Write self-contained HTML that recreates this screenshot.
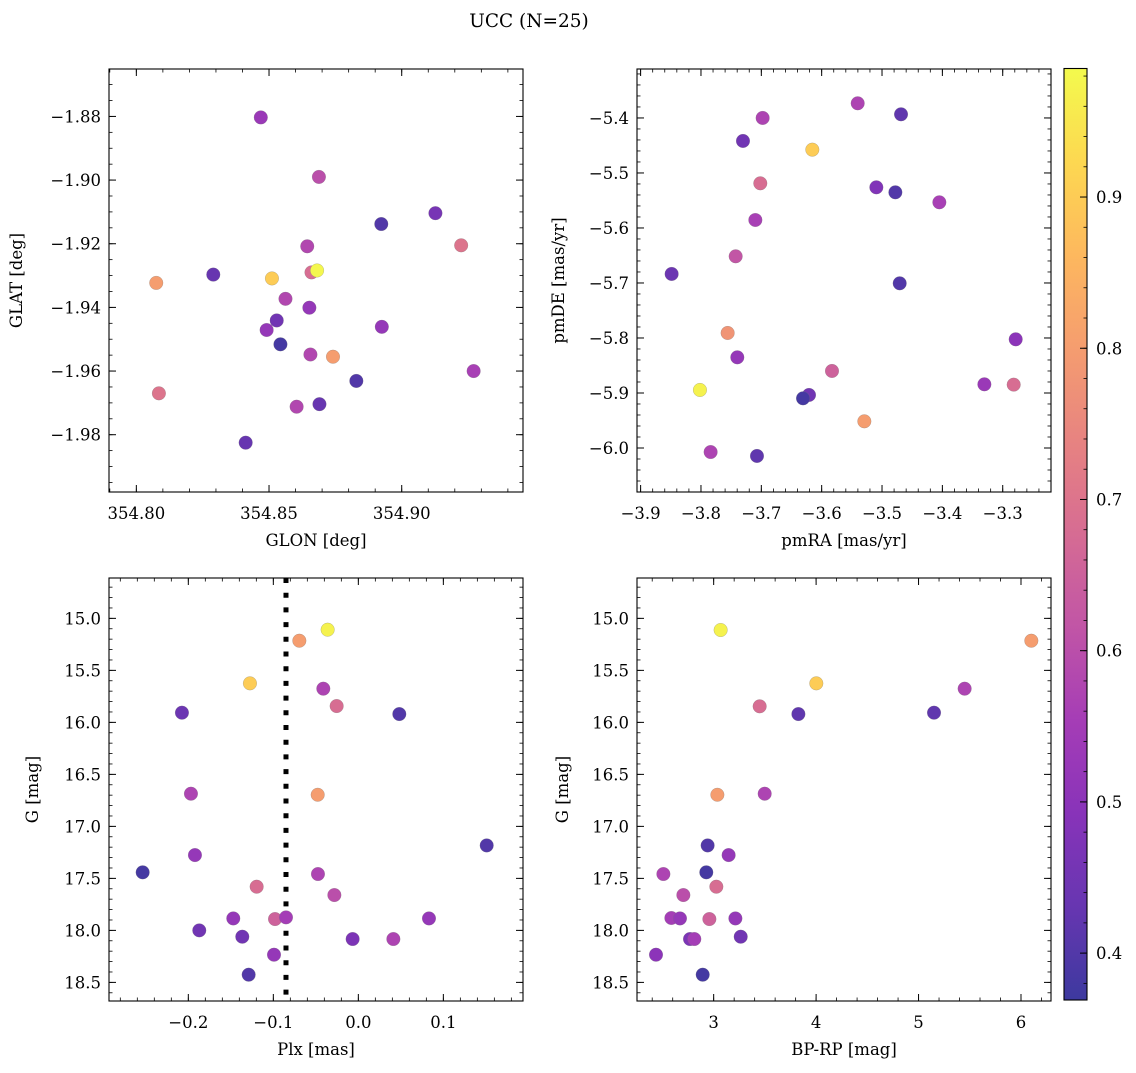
<!DOCTYPE html>
<html><head><meta charset="utf-8"><style>
html,body{margin:0;padding:0;background:#fff;}
svg text{font-family:"DejaVu Serif","Liberation Serif",serif;fill:#000;}
</style></head><body>
<svg id="fig" width="1136" height="1068" viewBox="0 0 1136 1068" xmlns="http://www.w3.org/2000/svg">
<rect width="1136" height="1068" fill="#fff"/>
<text x="529" y="27" font-size="18.5" text-anchor="middle">UCC (N=25)</text>
</svg>
<script>
// ---- data ----
const glon = [354.8469,354.8688,354.9127,354.8923,354.9224,354.8644,354.8290,354.8075,354.8511,354.8660,354.8681,354.8562,354.8652,354.8529,354.8491,354.8543,354.8925,354.8656,354.8741,354.9271,354.8829,354.8085,354.8690,354.8604,354.8412];
const glat = [-1.8803,-1.8990,-1.9104,-1.9138,-1.9205,-1.9208,-1.9297,-1.9323,-1.9309,-1.9290,-1.9284,-1.9373,-1.9401,-1.9441,-1.9471,-1.9516,-1.9461,-1.9548,-1.9555,-1.9600,-1.9631,-1.9670,-1.9704,-1.9712,-1.9825];
const probA = [0.53,0.60,0.46,0.40,0.70,0.58,0.43,0.80,0.90,0.68,0.98,0.58,0.52,0.45,0.52,0.38,0.52,0.58,0.80,0.56,0.40,0.70,0.43,0.58,0.43];

const pmra = [-3.5403,-3.4685,-3.6978,-3.7304,-3.6155,-3.7017,-3.5094,-3.4779,-3.4050,-3.7099,-3.7425,-3.8486,-3.4707,-3.7558,-3.2785,-3.7398,-3.5829,-3.3304,-3.2818,-3.8017,-3.6210,-3.6309,-3.5293,-3.7840,-3.7072];
const pmde = [-5.3733,-5.3933,-5.4000,-5.4418,-5.4576,-5.5188,-5.5261,-5.5352,-5.5533,-5.5855,-5.6515,-5.6836,-5.7006,-5.7909,-5.8024,-5.8352,-5.8600,-5.8842,-5.8848,-5.8945,-5.9036,-5.9097,-5.9515,-6.0073,-6.0145];
const probB = [0.57,0.42,0.57,0.45,0.90,0.68,0.48,0.40,0.56,0.56,0.62,0.44,0.40,0.78,0.50,0.52,0.65,0.53,0.68,0.97,0.45,0.38,0.80,0.57,0.42];

const plx = [-0.0361,-0.0694,-0.1275,-0.0412,-0.0255,-0.2075,0.0482,-0.1969,-0.0478,0.1510,-0.1922,-0.2537,-0.0475,-0.1196,-0.0282,-0.1471,-0.0980,-0.0851,0.0831,-0.1871,-0.1365,-0.0067,0.0412,-0.0992,-0.1290];
const gmagC = [15.109,15.215,15.625,15.676,15.843,15.907,15.920,16.686,16.696,17.183,17.276,17.442,17.458,17.580,17.660,17.885,17.891,17.875,17.885,18.000,18.061,18.083,18.083,18.234,18.426];
const probC = [0.97,0.80,0.90,0.57,0.68,0.44,0.40,0.57,0.80,0.40,0.52,0.38,0.57,0.68,0.60,0.52,0.65,0.55,0.52,0.45,0.45,0.47,0.57,0.52,0.40];
const plxMean = -0.0851;

const bprp = [3.068,6.101,4.002,5.450,3.449,3.827,5.151,3.036,3.498,2.941,3.146,2.928,2.509,3.026,2.704,2.587,2.671,2.958,3.212,3.264,2.769,2.811,2.437,2.893];
const gmagD = [15.112,15.215,15.625,15.676,15.846,15.920,15.907,16.696,16.686,17.183,17.276,17.442,17.458,17.580,17.660,17.881,17.885,17.891,17.885,18.061,18.083,18.083,18.234,18.426];
const probD = [0.97,0.80,0.90,0.57,0.68,0.42,0.42,0.80,0.57,0.40,0.52,0.38,0.57,0.68,0.60,0.55,0.52,0.65,0.52,0.45,0.47,0.55,0.50,0.38];

const ticksGlon = [354.80,354.85,354.90];
const ticksGlat = [-1.88,-1.90,-1.92,-1.94,-1.96,-1.98];
const ticksPmra = [-3.9,-3.8,-3.7,-3.6,-3.5,-3.4,-3.3];
const ticksPmde = [-5.4,-5.5,-5.6,-5.7,-5.8,-5.9,-6.0];
const ticksPlx = [-0.2,-0.1,0.0,0.1];
const ticksG = [15.0,15.5,16.0,16.5,17.0,17.5,18.0,18.5];
const ticksBprp = [3,4,5,6];
const ticksCbar = [0.4,0.5,0.6,0.7,0.8,0.9];
const cmin = 0.369, cmax = 0.985;

// ---- helpers ----
const NS = "http://www.w3.org/2000/svg";
const svg = document.getElementById('fig');
function mk(tag, attrs, parent){
  const e = document.createElementNS(NS, tag);
  for (const k in attrs) e.setAttribute(k, attrs[k]);
  (parent||svg).appendChild(e);
  return e;
}
const plasma = ["#0d0887","#41049d","#6a00a8","#8f0da4","#b12a90","#cc4778","#e16462","#f2844b","#fca636","#fcce25","#f0f921"];
function hex2rgb(h){return [parseInt(h.substr(1,2),16),parseInt(h.substr(3,2),16),parseInt(h.substr(5,2),16)];}
const ALPHA = 0.8;
function cmap(v){
  let t = (v-cmin)/(cmax-cmin); t=Math.max(0,Math.min(1,t));
  const s = t*10, i = Math.min(9,Math.floor(s)), f = s-i;
  const a = hex2rgb(plasma[i]), b = hex2rgb(plasma[i+1]);
  return "rgb("+a.map((x,k)=>Math.round((x+(b[k]-x)*f)*ALPHA+255*(1-ALPHA))).join(",")+")";
}
function fmt(v,d){ const s = Math.abs(v).toFixed(d); return (v< -1e-9?"\u2212":"")+s; }

function panel(o){
  const g = mk('g',{});
  
  
  const X = v => o.x0 + (v-o.xmin)/(o.xmax-o.xmin)*(o.x1-o.x0);
  const Y = o.invert ? (v => o.y0 + (v-o.ymin)/(o.ymax-o.ymin)*(o.y1-o.y0))
                     : (v => o.y1 - (v-o.ymin)/(o.ymax-o.ymin)*(o.y1-o.y0));
  const mt = mk('g',{stroke:'#000','stroke-width':0.8}, g);
  
  
  for (let v=Math.ceil(o.xmin/o.xminor)*o.xminor; v<=o.xmax; v+=o.xminor){
    const px=X(v);
    mk('line',{x1:px,x2:px,y1:o.y1,y2:o.y1-3.5},mt); mk('line',{x1:px,x2:px,y1:o.y0,y2:o.y0+3.5},mt);
  }
  for (let v=Math.ceil(o.ymin/o.yminor)*o.yminor; v<=o.ymax; v+=o.yminor){
    const py=Y(v);
    mk('line',{x1:o.x0,x2:o.x0+3.5,y1:py,y2:py},mt); mk('line',{x1:o.x1,x2:o.x1-3.5,y1:py,y2:py},mt);
  }
  o.xt.forEach(v=>{
    const px=X(v);
    mk('line',{x1:px,x2:px,y1:o.y1,y2:o.y1-7,stroke:'#000','stroke-width':1},g);
    mk('line',{x1:px,x2:px,y1:o.y0,y2:o.y0+7,stroke:'#000','stroke-width':1},g);
    const t = mk('text',{x:px,y:o.y1+27,'font-size':16.5,'text-anchor':'middle'},g);
    
    
    t.textContent = fmt(v,o.xd);
  });
  o.yt.forEach(v=>{
    const py=Y(v);
    mk('line',{x1:o.x0,x2:o.x0+7,y1:py,y2:py,stroke:'#000','stroke-width':1},g);
    mk('line',{x1:o.x1,x2:o.x1-7,y1:py,y2:py,stroke:'#000','stroke-width':1},g);
    const t = mk('text',{x:o.x0-8,y:py+6,'font-size':16.5,'text-anchor':'end'},g);
    
    
    t.textContent = fmt(v,o.yd);
  });
  if (o.vline!==undefined){
    const l = mk('line',{x1:X(o.vline),x2:X(o.vline),y1:o.y0,y2:o.y1,stroke:'#000','stroke-width':5,'stroke-dasharray':'5 9.7'},g);
    
    
  }
  for (let i=0;i<o.xs.length;i++){
    const c = mk('circle',{cx:X(o.xs[i]),cy:Y(o.ys[i]),r:6.8,fill:cmap(o.cs[i]),stroke:'#777','stroke-opacity':0.6,'stroke-width':0.4},g);
    
    
  }
  const fr = mk('rect',{x:o.x0,y:o.y0,width:o.x1-o.x0,height:o.y1-o.y0,fill:'none',stroke:'#000','stroke-width':1.1},g);
  
  
  const xl = mk('text',{x:(o.x0+o.x1)/2,y:o.y1+54,'font-size':16.5,'text-anchor':'middle'},g);
  
  
  xl.textContent = o.xlabel;
  const yc=(o.y0+o.y1)/2;
  const yl = mk('text',{x:o.ylx,y:yc,'font-size':16.5,'text-anchor':'middle',transform:'rotate(-90 '+o.ylx+' '+yc+')'},g);
  
  
  yl.textContent = o.ylabel;
}

panel({name:'glon-glat-panel',x0:109,x1:523,y0:69,y1:492,xmin:354.7897,xmax:354.9457,ymin:-1.998,ymax:-1.8651,
  xt:ticksGlon,yt:ticksGlat,xd:2,yd:2,xminor:0.01,yminor:0.005,xs:glon,ys:glat,cs:probA,xlabel:'GLON [deg]',ylabel:'GLAT [deg]',ylx:22});
panel({name:'pm-panel',x0:637,x1:1051,y0:69,y1:492,xmin:-3.906,xmax:-3.220,ymin:-6.080,ymax:-5.311,
  xt:ticksPmra,yt:ticksPmde,xd:1,yd:1,xminor:0.02,yminor:0.02,xs:pmra,ys:pmde,cs:probB,xlabel:'pmRA [mas/yr]',ylabel:'pmDE [mas/yr]',ylx:564});
panel({name:'plx-g-panel',x0:109,x1:523,y0:578,y1:1001,xmin:-0.2933,xmax:0.1937,ymin:14.612,ymax:18.679,invert:true,
  xt:ticksPlx,yt:ticksG,xd:1,yd:1,xminor:0.02,yminor:0.1,xs:plx,ys:gmagC,cs:probC,xlabel:'Plx [mas]',ylabel:'G [mag]',ylx:38,vline:plxMean});
panel({name:'cmd-panel',x0:637,x1:1051,y0:578,y1:1001,xmin:2.2515,xmax:6.293,ymin:14.612,ymax:18.679,invert:true,
  xt:ticksBprp,yt:ticksG,xd:0,yd:1,xminor:0.2,yminor:0.1,xs:bprp,ys:gmagD,cs:probD,xlabel:'BP-RP [mag]',ylabel:'G [mag]',ylx:568});

(function(){
  const x0=1064,x1=1087,y0=68.5,y1=1000;
  const g = mk('g',{});
  
  
  const defs = mk('defs',{},g);
  const lg = mk('linearGradient',{id:'cbg',x1:0,y1:1,x2:0,y2:0},defs);
  for (let k=0;k<=20;k++){
    const v = cmin+(cmax-cmin)*k/20;
    mk('stop',{offset:(k/20),'stop-color':cmap(v)},lg);
  }
  mk('rect',{x:x0,y:y0,width:x1-x0,height:y1-y0,fill:'url(#cbg)'},g);
  const Y = v => y1-(v-cmin)/(cmax-cmin)*(y1-y0);
  for (let v=0.38; v<cmax; v+=0.02){
    const py=Y(v); mk('line',{x1:x1,x2:x1-3.5,y1:py,y2:py,stroke:'#000','stroke-width':0.8},g);
  }
  ticksCbar.forEach(v=>{
    const py=Y(v);
    mk('line',{x1:x1,x2:x1-7,y1:py,y2:py,stroke:'#000','stroke-width':1},g);
    const t = mk('text',{x:x1+9,y:py+6,'font-size':16.5},g);
    
    
    t.textContent = v.toFixed(1);
  });
  mk('rect',{x:x0,y:y0,width:x1-x0,height:y1-y0,fill:'none',stroke:'#000','stroke-width':1.1},g);
})();
</script>
</body></html>
